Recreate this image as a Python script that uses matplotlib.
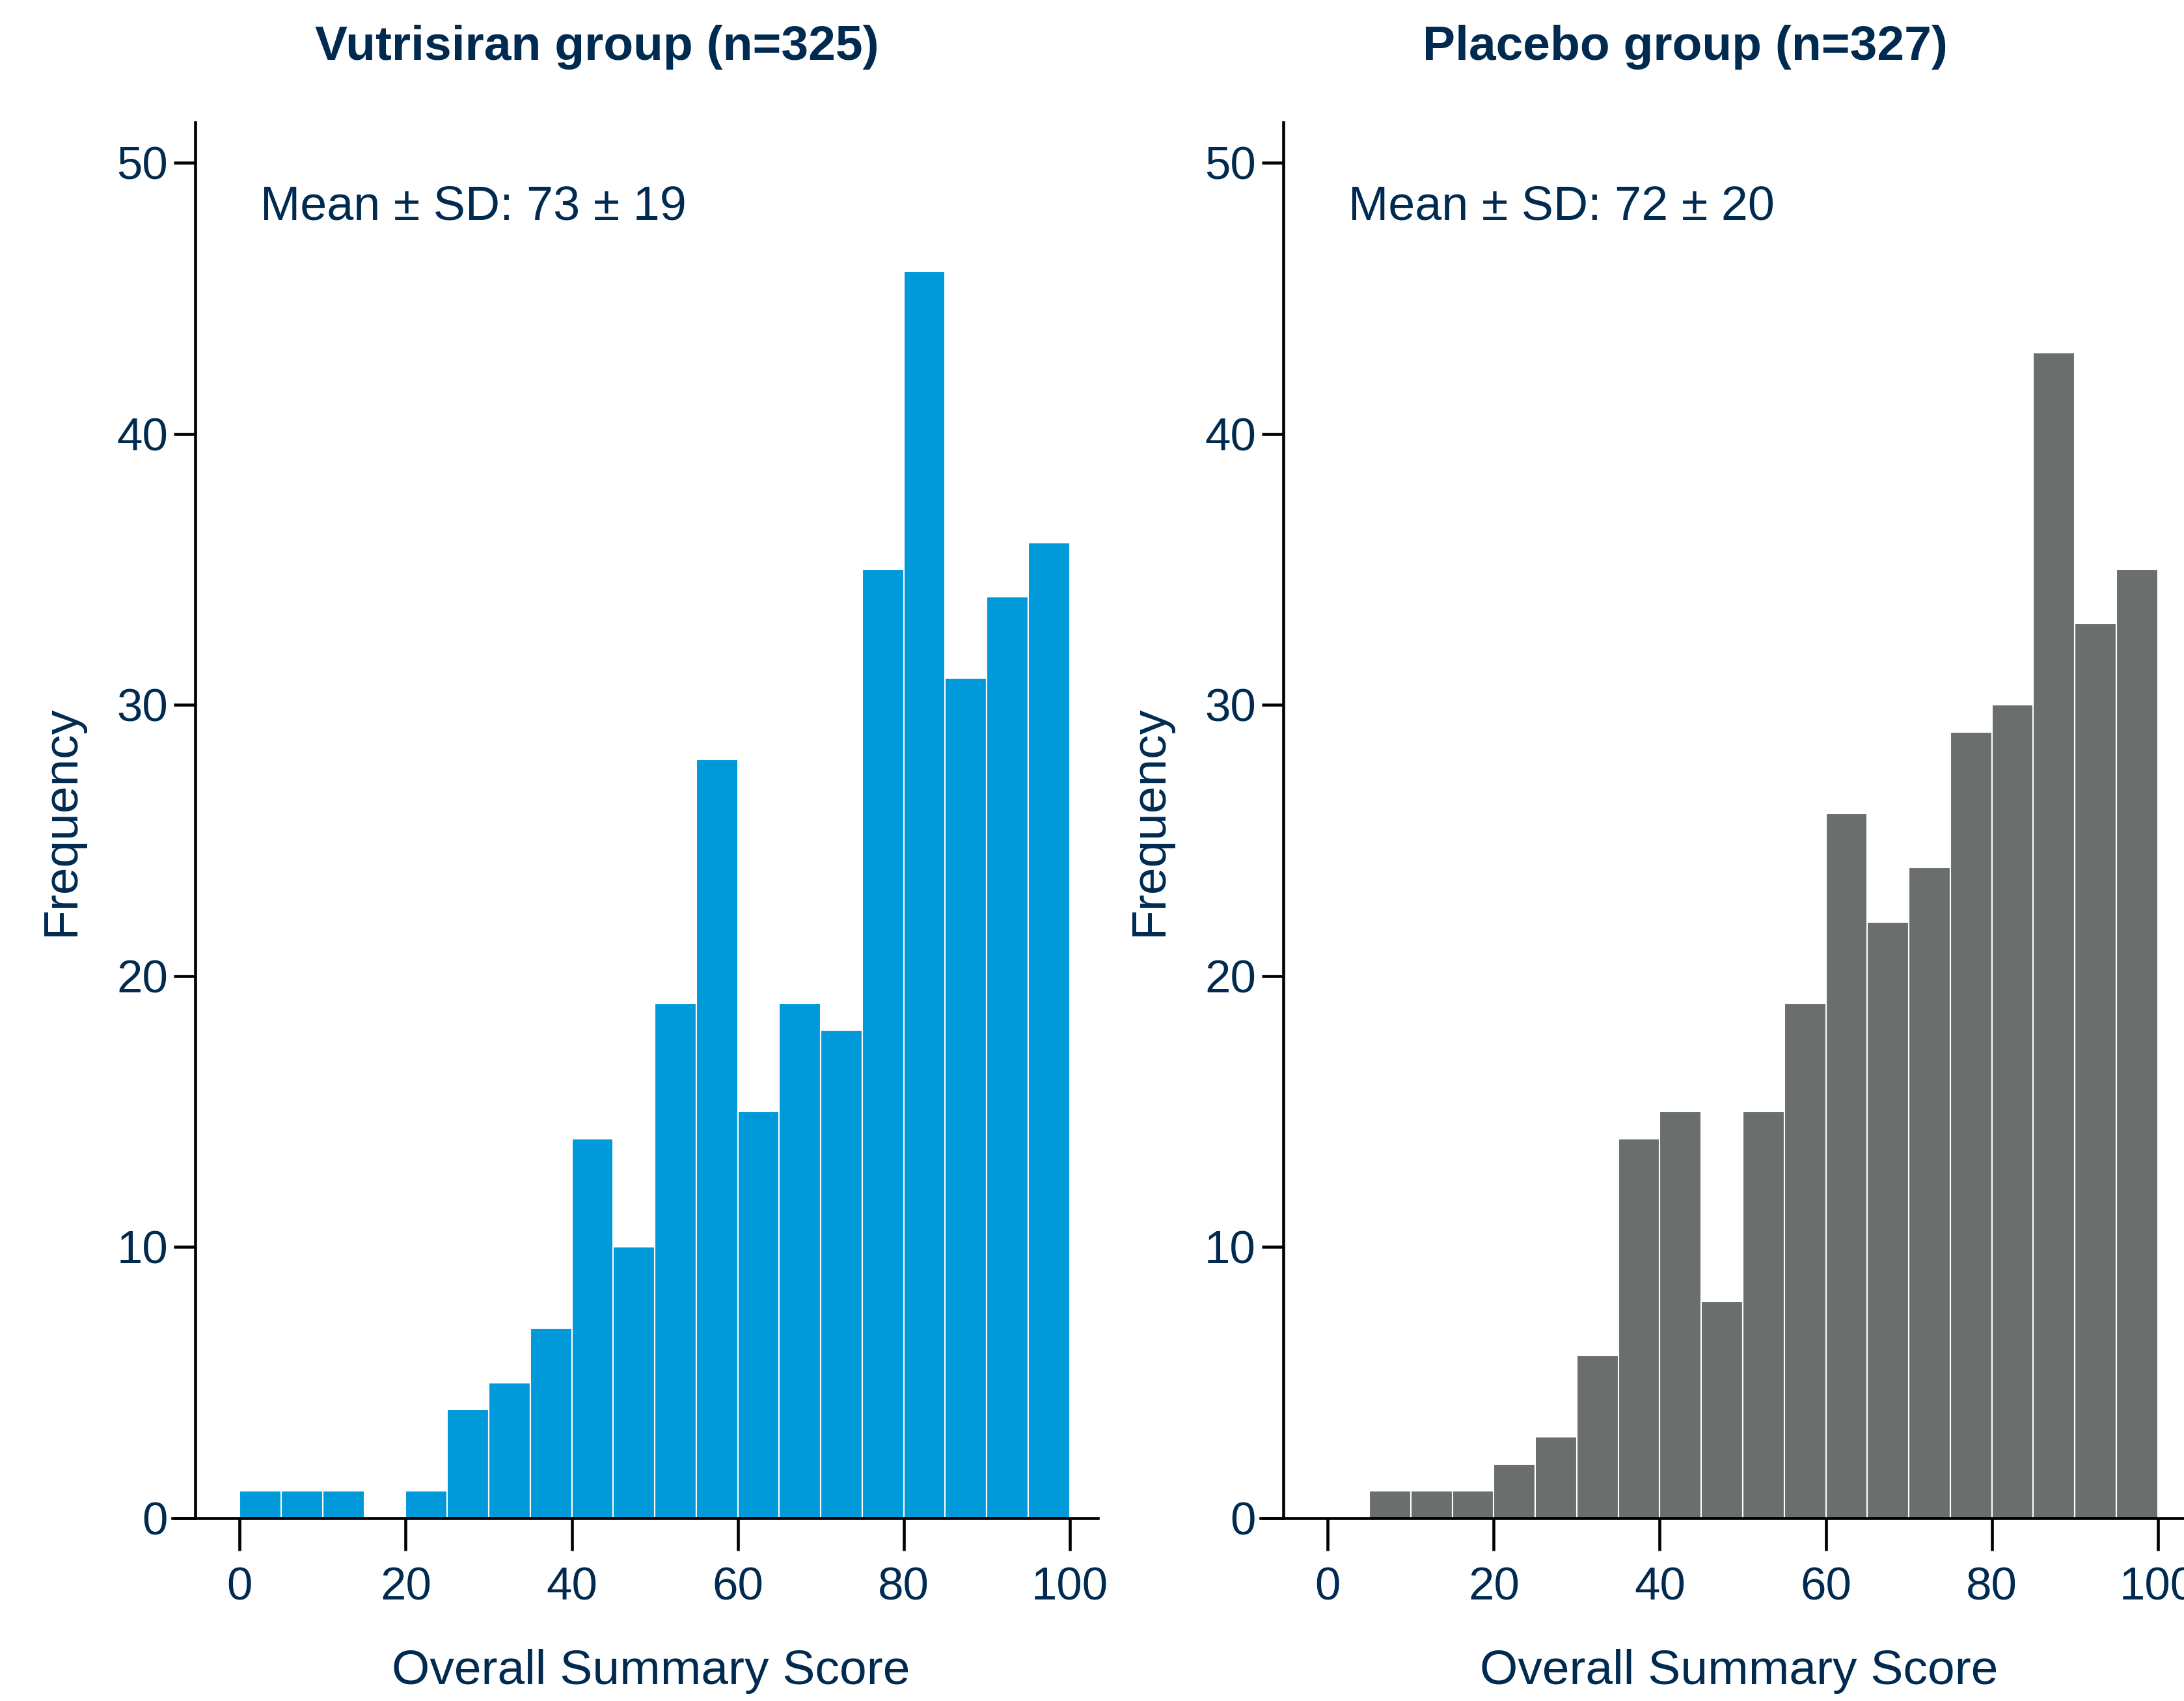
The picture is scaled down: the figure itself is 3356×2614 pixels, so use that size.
import numpy as np
import matplotlib
matplotlib.use("Agg")
import matplotlib.pyplot as plt

plt.rcParams['font.family'] = ['Liberation Sans', 'DejaVu Sans']

# histogram bins (left edges, width 5) and counts
bin_edges = [0, 5, 10, 15, 20, 25, 30, 35, 40, 45, 50, 55, 60, 65, 70, 75, 80, 85, 90, 95]
bin_width = 5
vutrisiran_counts = [1, 1, 1, 0, 1, 4, 5, 7, 14, 10, 19, 28, 15, 19, 18, 35, 46, 31, 34, 36]
placebo_counts = [0, 1, 1, 1, 2, 3, 6, 14, 15, 8, 15, 19, 26, 22, 24, 29, 30, 43, 33, 35]

titles = ["Vutrisiran group (n=325)", "Placebo group (n=327)"]
mean_sd = ["Mean \u00b1 SD: 73 \u00b1 19", "Mean \u00b1 SD: 72 \u00b1 20"]
colors = ["#009ADA", "#6A6E6D"]
xticks = [0, 20, 40, 60, 80, 100]
yticks = [0, 10, 20, 30, 40, 50]

navy = "#002A50"

fig = plt.figure(figsize=(3356 / 300, 2614 / 300), dpi=300)
ax1 = fig.add_axes([0.079, 0.1075, 0.4237, 0.8206])
ax2 = fig.add_axes([0.5772, 0.1075, 0.4237, 0.8206])

for ax, counts, col, title, txt in zip([ax1, ax2], [vutrisiran_counts, placebo_counts],
                                       colors, titles, mean_sd):
    nz = [i for i, c in enumerate(counts) if c > 0]
    ax.bar([bin_edges[i] for i in nz], [counts[i] for i in nz], width=bin_width,
           align='edge', color=col, edgecolor='white', linewidth=0.5, zorder=2)

    ax.set_xlim(-8.1, 103.4)
    ax.set_ylim(0, 51.5)
    ax.set_xticks(xticks)
    ax.set_yticks(yticks)

    for s in ['top', 'right']:
        ax.spines[s].set_visible(False)
    ax.spines['left'].set_position(('data', -5.4))
    for s in ['left', 'bottom']:
        ax.spines[s].set_linewidth(1.1)
        ax.spines[s].set_color('black')
        ax.spines[s].set_zorder(3)

    ax.tick_params(axis='x', length=12, width=1.1, pad=6, labelsize=17, labelcolor=navy)
    ax.tick_params(axis='y', length=8, width=1.1, pad=2, labelsize=17, labelcolor=navy)

    ax.set_ylabel("Frequency", fontsize=18, color=navy, labelpad=12)
    ax.set_xlabel("Overall Summary Score", fontsize=18, color=navy)
    ax.xaxis.set_label_coords(0.517, -0.11, transform=ax.transAxes)
    ax.xaxis.label.set_va('center')

    ax.text(0.459, 1.0536, title, transform=ax.transAxes, ha='center', va='center',
            fontsize=18, fontweight='bold', color=navy)
    ax.text(2.5, 47.9, txt, fontsize=17.7, color=navy, ha='left', va='baseline')

fig.savefig("out.png", dpi=300)
